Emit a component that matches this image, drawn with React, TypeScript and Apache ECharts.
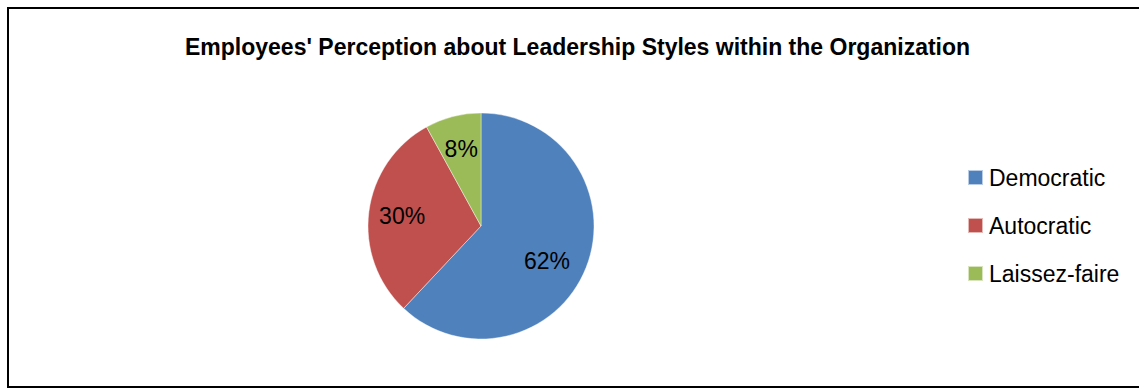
import React, { useEffect, useRef } from "react";
import * as echarts from "echarts";

const titleText = "Employees' Perception about Leadership Styles within the Organization";
const categories = ["Democratic", "Autocratic", "Laissez-faire"];
const values = [62, 30, 8];
const colors = ["#4F81BD", "#C0504D", "#9BBB59"];

const FONT = "'Liberation Sans', Arial, sans-serif";

export default function App() {
  const ref = useRef<HTMLDivElement>(null);

  useEffect(() => {
    if (!ref.current) return;
    const chart = echarts.init(ref.current, undefined, { renderer: "svg" });
    const data = categories.map((name, i) => ({
      name,
      value: values[i],
      itemStyle: { color: colors[i] },
    }));
    chart.setOption({
      animation: false,
      backgroundColor: "#ffffff",
      title: {
        text: titleText,
        left: 185,
        top: 35,
        padding: 0,
        textStyle: {
          fontFamily: FONT,
          fontWeight: "bold",
          fontSize: 23,
          color: "#000000",
        },
      },
      legend: {
        orient: "vertical",
        left: 967,
        top: 166,
        icon: "rect",
        itemWidth: 15,
        itemHeight: 15,
        itemGap: 25,
        padding: 0,
        data: categories,
        textStyle: {
          fontFamily: FONT,
          fontSize: 23,
          color: "#000000",
          padding: [0, 0, 0, 1],
        },
      },
      graphic: [
        {
          type: "rect",
          shape: { x: 8, y: 8, width: 1140, height: 379 },
          style: { fill: "none", stroke: "#000000", lineWidth: 2 },
          silent: true,
        },
      ],
      series: [
        {
          name: "Leadership Styles",
          type: "pie",
          center: [481, 226],
          radius: [0, 113],
          startAngle: 90,
          clockwise: true,
          label: { show: false },
          labelLine: { show: false },
          itemStyle: { borderColor: "rgba(255,255,255,0.6)", borderWidth: 0.7 },
          emphasis: { disabled: true },
          data,
        },
        {
          name: "Labels",
          type: "pie",
          center: [481, 226],
          radius: [40, 113],
          startAngle: 90,
          clockwise: true,
          silent: true,
          itemStyle: { color: "rgba(0,0,0,0)", borderWidth: 0 },
          label: {
            show: true,
            position: "inside",
            formatter: "{c}%",
            fontFamily: FONT,
            fontSize: 23,
            color: "#000000",
          },
          labelLine: { show: false },
          emphasis: { disabled: true },
          data: categories.map((name, i) => ({
            name,
            value: values[i],
            label: i === 0 ? { offset: [-8, 6] } : undefined,
          })),
        },
      ],
    });
    return () => chart.dispose();
  }, []);

  return (
    <div
      ref={ref}
      style={{ position: "fixed", left: 0, top: 0, width: 1139, height: 388 }}
    />
  );
}
